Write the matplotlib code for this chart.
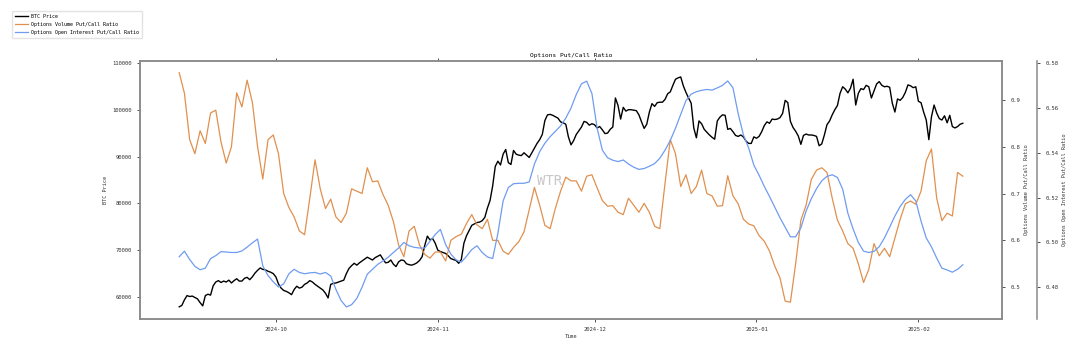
import matplotlib
matplotlib.use('Agg')
import matplotlib.pyplot as plt
import matplotlib.dates as mdates
import pandas as pd

# BTC price, 12-hourly
btc_price = [
    57900, 58200, 59400, 60300, 60100, 60200, 59900, 59600, 58800, 58100,
    60300, 60600, 60400, 62400, 63200, 63500, 63100, 63400, 63200, 63600,
    63000, 63500, 63900, 63400, 63400, 64000, 64200, 63700, 64300, 65100,
    65700, 66200, 65900, 65800, 65500, 65300, 65000, 64300, 62800, 61900,
    61400, 61200, 60900, 60500, 61600, 62300, 61900, 62100, 62700, 63000,
    63500, 63200, 62700, 62300, 61900, 61500, 60800, 59800, 62700, 62900,
    63000, 63200, 63400, 63600, 65000, 66100, 66700, 67200, 66800, 67300,
    67700, 68100, 68500, 68200, 67900, 68400, 68700, 69000, 68100, 67300,
    67400, 67900, 67000, 66500, 67500, 67900, 67800, 67100, 66900, 66800,
    67000, 67300, 67800, 68600, 71000, 73000, 72200, 72500, 71500, 70000,
    69700, 69500, 69300, 68800, 68200, 68000, 67800, 67200, 68000, 71500,
    73100, 74200, 75300, 75600, 75900, 76000, 76300, 77000, 79000, 80600,
    83700, 87900, 89000, 88200, 90500, 91500, 88700, 88300, 91300, 90500,
    90300, 90200, 90800, 90300, 89800, 90800, 91800, 92800, 93600, 94700,
    97700, 98900, 99000, 98800, 98500, 98200, 97400, 97200, 96900, 94200,
    92500, 93400, 94700, 95500, 96300, 97500, 97300, 96700, 97000, 96800,
    96100, 96400, 95700, 94900, 95000, 95800, 96300, 102500, 100900, 98000,
    100500, 99700, 100000, 100000, 99900, 99800, 98900, 97400, 96000, 96900,
    99500, 101300, 100700, 101500, 101600, 101600, 102200, 103400, 103800, 105200,
    106500, 106800, 107000, 105100, 103700, 102500, 101400, 96100, 94000, 97600,
    97000, 95800, 95200, 94600, 94100, 93700, 97600, 98400, 98900, 98800,
    95800, 96000, 95300, 94500, 94300, 94600, 94200, 93300, 92800, 92800,
    94200, 93900, 94300, 95300, 96600, 97400, 97100, 98000, 97900, 98000,
    98300, 99200, 102000, 101500, 97500, 96200, 95400, 94400, 92600, 94500,
    94800, 94600, 94600, 94500, 94300, 92300, 92700, 94600, 96800, 97600,
    98900, 100000, 100900, 103500, 104900, 104400, 103600, 104600, 106500, 101000,
    103500, 104500, 104300, 105200, 104900, 102500, 104000, 105500, 106000, 105200,
    104900, 105000, 104800, 101400, 99500, 102300, 102000, 102600, 103700, 105300,
    105100, 104700, 104900, 101800, 101500, 99500, 97800, 93600, 98500, 101000,
    99300, 98100, 97800, 98700, 97200, 98800, 96400, 96100, 96400, 96900,
    97100,
]

# daily put/call ratios
volume_pcr = [
    0.958, 0.914, 0.815, 0.785, 0.834, 0.807, 0.872, 0.878, 0.810, 0.765,
    0.800, 0.915, 0.885, 0.942, 0.895, 0.800, 0.731, 0.815, 0.825, 0.785,
    0.700, 0.670, 0.650, 0.620, 0.612, 0.690, 0.772, 0.710, 0.668, 0.688,
    0.650, 0.638, 0.658, 0.710, 0.705, 0.700, 0.755, 0.725, 0.727, 0.698,
    0.675, 0.640, 0.590, 0.565, 0.620, 0.630, 0.590, 0.570, 0.562, 0.575,
    0.575, 0.556, 0.600, 0.608, 0.613, 0.636, 0.655, 0.633, 0.625, 0.645,
    0.600, 0.600, 0.577, 0.570, 0.585, 0.597, 0.618, 0.665, 0.713, 0.675,
    0.632, 0.625, 0.668, 0.705, 0.735, 0.727, 0.727, 0.705, 0.737, 0.740,
    0.712, 0.685, 0.673, 0.674, 0.660, 0.655, 0.690, 0.675, 0.660, 0.679,
    0.660, 0.630, 0.625, 0.722, 0.815, 0.785, 0.715, 0.740, 0.700, 0.715,
    0.750, 0.700, 0.695, 0.673, 0.674, 0.738, 0.695, 0.678, 0.645, 0.635,
    0.631, 0.610, 0.598, 0.577, 0.545, 0.520, 0.470, 0.468, 0.550, 0.643,
    0.675, 0.730, 0.750, 0.755, 0.745, 0.690, 0.643, 0.620, 0.593, 0.583,
    0.550, 0.510, 0.538, 0.593, 0.567, 0.583, 0.565, 0.605, 0.645, 0.678,
    0.684, 0.677, 0.705, 0.770, 0.795, 0.690, 0.642, 0.658, 0.652, 0.745,
    0.737,
]

oi_pcr = [
    0.4936, 0.4961, 0.4924, 0.4893, 0.4878, 0.4885, 0.4928, 0.4941, 0.4959, 0.4957,
    0.4955, 0.4955, 0.4962, 0.4979, 0.4998, 0.5015, 0.4895, 0.4852, 0.4824, 0.4801,
    0.4815, 0.4860, 0.4880, 0.4866, 0.4860, 0.4864, 0.4866, 0.4859, 0.4866, 0.4850,
    0.4790, 0.4740, 0.4712, 0.4722, 0.4750, 0.4800, 0.4858, 0.4880, 0.4902, 0.4917,
    0.4934, 0.4955, 0.4975, 0.5000, 0.4985, 0.4978, 0.4975, 0.4975, 0.5005, 0.5035,
    0.5058, 0.4990, 0.4948, 0.4922, 0.4912, 0.4938, 0.4968, 0.4985, 0.4955, 0.4935,
    0.4928, 0.5040, 0.5185, 0.5245, 0.5262, 0.5264, 0.5264, 0.5270, 0.5350, 0.5405,
    0.5443, 0.5472, 0.5496, 0.5520, 0.5555, 0.5600, 0.5660, 0.5708, 0.5720, 0.5665,
    0.5510, 0.5412, 0.5378, 0.5367, 0.5361, 0.5368, 0.5350, 0.5336, 0.5326, 0.5330,
    0.5340, 0.5352, 0.5376, 0.5412, 0.5455, 0.5510, 0.5572, 0.5633, 0.5662, 0.5673,
    0.5679, 0.5683, 0.5680, 0.5690, 0.5701, 0.5721, 0.5690, 0.5575, 0.5480, 0.5422,
    0.5345, 0.5300, 0.5250, 0.5205, 0.5158, 0.5110, 0.5068, 0.5025, 0.5025, 0.5065,
    0.5140, 0.5195, 0.5240, 0.5275, 0.5295, 0.5302, 0.5290, 0.5238, 0.5130, 0.5060,
    0.5000, 0.4961, 0.4955, 0.4960, 0.4981, 0.5020, 0.5068, 0.5118, 0.5160, 0.5192,
    0.5213, 0.5185, 0.5095, 0.5020, 0.4980, 0.4930, 0.4885, 0.4877, 0.4867, 0.4880,
    0.4900,
]

btc_times = pd.date_range('2024-09-12 12:00', periods=len(btc_price), freq='12h')
ratio_times = pd.date_range('2024-09-12 12:00', periods=len(volume_pcr), freq='D')

plt.rcParams['font.family'] = ['DejaVu Sans Mono']
spine_col = '#8a8a8a'
text_col = '#333333'

fig = plt.figure(figsize=(10.83, 3.46), dpi=100)
ax = fig.add_axes([0.1293, 0.078, 0.7959, 0.7457])
ax2 = ax.twinx()
ax3 = ax.twinx()
ax3.spines['right'].set_position(('axes', 1.0406))

l1, = ax.plot(btc_times, btc_price, color='black', lw=1.0, label='BTC Price')
l2, = ax2.plot(ratio_times, volume_pcr, color='#e0904f', lw=0.9,
               label='Options Volume Put/Call Ratio')
l3, = ax3.plot(ratio_times, oi_pcr, color='#6f9cf0', lw=0.9,
               label='Options Open Interest Put/Call Ratio')

ax.set_ylim(55300, 110400)
ax2.set_ylim(0.432, 0.983)
ax3.set_ylim(0.4658, 0.581)
ax2.set_yticks([0.5, 0.6, 0.7, 0.8, 0.9])
ax3.set_yticks([0.48, 0.50, 0.52, 0.54, 0.56, 0.58])
ax3.set_yticklabels(['0.48', '0.50', '0.52', '0.54', '0.56', '0.58'])

ax.xaxis.set_major_locator(mdates.MonthLocator())
ax.xaxis.set_major_formatter(mdates.DateFormatter('%Y-%m'))

for a in (ax, ax2, ax3):
    for s in a.spines.values():
        s.set_color(spine_col)
        s.set_linewidth(1.1)
    a.tick_params(labelsize=4, colors=text_col, length=2.5, width=0.6)
ax.tick_params(axis='x', top=True)
ax3.spines['left'].set_visible(False)
ax3.spines['top'].set_visible(False)
ax3.spines['bottom'].set_visible(False)

ax.set_title('Options Put/Call Ratio', fontsize=4.4, color='black', pad=3)
ax.set_xlabel('Time', fontsize=3.8, labelpad=1, color=text_col)
ax.set_ylabel('BTC Price', fontsize=3.8, labelpad=3, color=text_col)
ax2.set_ylabel('Options Volume Put/Call Ratio', fontsize=3.8, labelpad=3, color=text_col)
ax3.set_ylabel('Options Open Interest Put/Call Ratio', fontsize=3.8, labelpad=3,
               color=text_col)

ax.text(0.475, 0.535, 'WTR', transform=ax.transAxes, fontsize=10,
        color='#c8c8c8', ha='center', va='center', zorder=0)

fig.legend(handles=[l1, l2, l3], loc='upper left', bbox_to_anchor=(0.009, 0.975),
           fontsize=3.6, handlelength=2.6, handletextpad=0.6, frameon=True,
           fancybox=False, edgecolor='#dddddd', borderpad=0.6, labelspacing=0.6)

fig.savefig('out.png', dpi=100)
